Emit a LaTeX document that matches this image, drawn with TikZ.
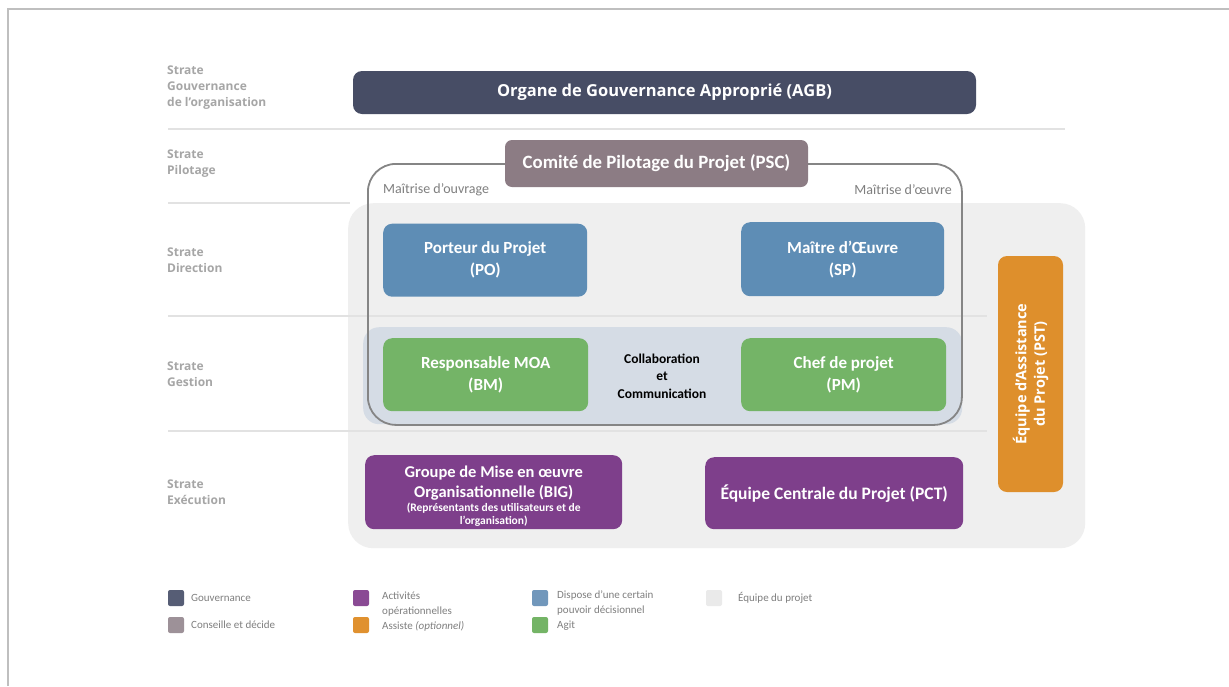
\documentclass[tikz,border=0pt]{standalone}
\usepackage{fontspec}
\setmainfont{Carlito}
\newfontfamily\osans{Open Sans}
\definecolor{gov}{HTML}{474D65}
\definecolor{psc}{HTML}{8C7C84}
\definecolor{blu}{HTML}{5E8DB5}
\definecolor{grn}{HTML}{74B467}
\definecolor{pur}{HTML}{7E3F8B}
\definecolor{org}{HTML}{DE8F2C}
\definecolor{team}{HTML}{EFEFEF}
\definecolor{band}{HTML}{D5DCE5}
\definecolor{sep}{HTML}{E2E2E2}
\definecolor{strat}{HTML}{A6A6A6}
\definecolor{legtxt}{HTML}{7F7F7F}
\definecolor{frame}{HTML}{BFBFBF}
\definecolor{outl}{HTML}{858585}
\definecolor{lgov}{HTML}{565D75}
\definecolor{lpsc}{HTML}{9D9198}
\definecolor{lpur}{HTML}{8A4A94}
\definecolor{lorg}{HTML}{E0912F}
\definecolor{lblu}{HTML}{7197BB}
\definecolor{lgrn}{HTML}{74B466}
\definecolor{lteam}{HTML}{EAEAEA}
\tikzset{
  box/.style={rounded corners=9, inner sep=0, text=white, align=center, font=\bfseries\fontsize{17}{22}\selectfont},
  strata/.style={anchor=north west, inner sep=0, align=left, text=strat, font=\osans\bfseries\fontsize{12}{16}\selectfont},
  sepline/.style={draw=sep, line width=1.2pt},
  sq/.style={minimum width=16, minimum height=16, inner sep=0, rounded corners=2},
  legend/.style={anchor=west, inner sep=0, align=left, text=legtxt, font=\fontsize{11}{14.5}\selectfont},
  maitr/.style={inner sep=0, text=legtxt, font=\fontsize{14}{16}\selectfont}
}
\begin{document}
\begin{tikzpicture}[x=1pt,y=-1pt]
\useasboundingbox (0,0) rectangle (1229,686);
\fill[white] (0,0) rectangle (1229,686);
\draw[frame, line width=2pt] (8,686) -- (8,9) -- (1229,9);

% strata labels
\node[strata] (s1) at (167,66) {Strate\\Gouvernance\\de l’organisation};
\node[strata] (s2) at (167,150) {Strate\\Pilotage};
\node[strata] (s3) at (167,248) {Strate\\Direction};
\node[strata] (s4) at (167,362) {Strate\\Gestion};
\node[strata] (s5) at (167,480) {Strate\\Exécution};

% separators
\draw[sepline] (168,129) -- (1065,129);
\draw[sepline] (168,203) -- (350,203);

% team region
\node[fill=team, rounded corners=25, minimum width=737, minimum height=345, anchor=north west, inner sep=0] (team) at (348,203) {};

\draw[sepline] (168,316) -- (987,316);
\draw[sepline] (168,431) -- (987,431);

% governance
\node[box, fill=gov, minimum width=623, minimum height=43, font=\osans\bfseries\fontsize{16.5}{20}\selectfont] (agb) at (664.5,92.5) {Organe de Gouvernance Approprié (AGB)};

% gestion band
\node[fill=band, rounded corners=16, minimum width=599, minimum height=97, anchor=north west, inner sep=0] (band) at (363,327) {};

% outline
\node[draw=outl, line width=1.8pt, rounded corners=28, minimum width=594, minimum height=261, anchor=north west, inner sep=0] (moa) at (367,163) {};

% PSC
\node[box, fill=psc, rounded corners=7, minimum width=303, minimum height=47, font=\bfseries\fontsize{18.8}{22}\selectfont] (psc) at (656.5,163.5) {Comité de Pilotage du Projet (PSC)};

\node[maitr, anchor=west] (mo) at (383,190) {Maîtrise d’ouvrage};
\node[maitr, anchor=east] (me) at (952,190) {Maîtrise d’œuvre};

% direction
\node[box, fill=blu, minimum width=204, minimum height=73, anchor=north west] (po) at (383,223.5) {Porteur du Projet\\(PO)};
\node[box, fill=blu, minimum width=203, minimum height=74, anchor=north west] (sp) at (741,222) {Maître d’Œuvre\\(SP)};

% gestion
\node[box, fill=grn, minimum width=205, minimum height=73, anchor=north west] (bm) at (383,338) {Responsable MOA\\(BM)};
\node[box, fill=grn, minimum width=205, minimum height=73, anchor=north west] (pm) at (741,338) {Chef de projet\\(PM)};
\node[inner sep=0, align=center, font=\bfseries\fontsize{13.5}{17.5}\selectfont] (collab) at (662,376) {Collaboration\\et\\Communication};

% execution
\node[box, fill=pur, minimum width=257, minimum height=74, anchor=north west, font=\bfseries\fontsize{16.5}{19.5}\selectfont] (big) at (365,455) {\rule{0pt}{20pt}Groupe de Mise en œuvre\\Organisationnelle (BIG)\\[-5.5pt]{\fontsize{11.5}{13}\selectfont (Représentants des utilisateurs et de}\\[-6.5pt]{\fontsize{11.5}{13}\selectfont l’organisation)}};
\node[box, fill=pur, minimum width=258, minimum height=72, anchor=north west, font=\bfseries\fontsize{17.5}{20}\selectfont] (pct) at (705,457) {Équipe Centrale du Projet (PCT)};

% assistance
\node[box, fill=org, rotate=90, minimum width=236, minimum height=65, font=\osans\bfseries\fontsize{14.5}{18.5}\selectfont] (pst) at (1030.5,374) {Équipe d’Assistance\\du Projet (PST)};

% legend
\node[sq, fill=lgov] (q1) at (176,598) {};
\node[legend] (t1) at (191,598) {Gouvernance};
\node[sq, fill=lpsc] (q2) at (176,625) {};
\node[legend] (t2) at (191,625) {Conseille et décide};
\node[sq, fill=lpur] (q3) at (361,598) {};
\node[legend] (t3) at (382,604) {Activités\\opérationnelles};
\node[sq, fill=lorg] (q4) at (361,625) {};
\node[legend] (t4) at (382,626) {Assiste \textit{(optionnel)}};
\node[sq, fill=lblu] (q5) at (540,598) {};
\node[legend] (t5) at (557,603) {Dispose d’une certain\\pouvoir décisionnel};
\node[sq, fill=lgrn] (q6) at (540,625) {};
\node[legend] (t6) at (557,626) {Agit};
\node[sq, fill=lteam] (q7) at (714,598) {};
\node[legend] (t7) at (738,598) {Équipe du projet};
\end{tikzpicture}
\end{document}
